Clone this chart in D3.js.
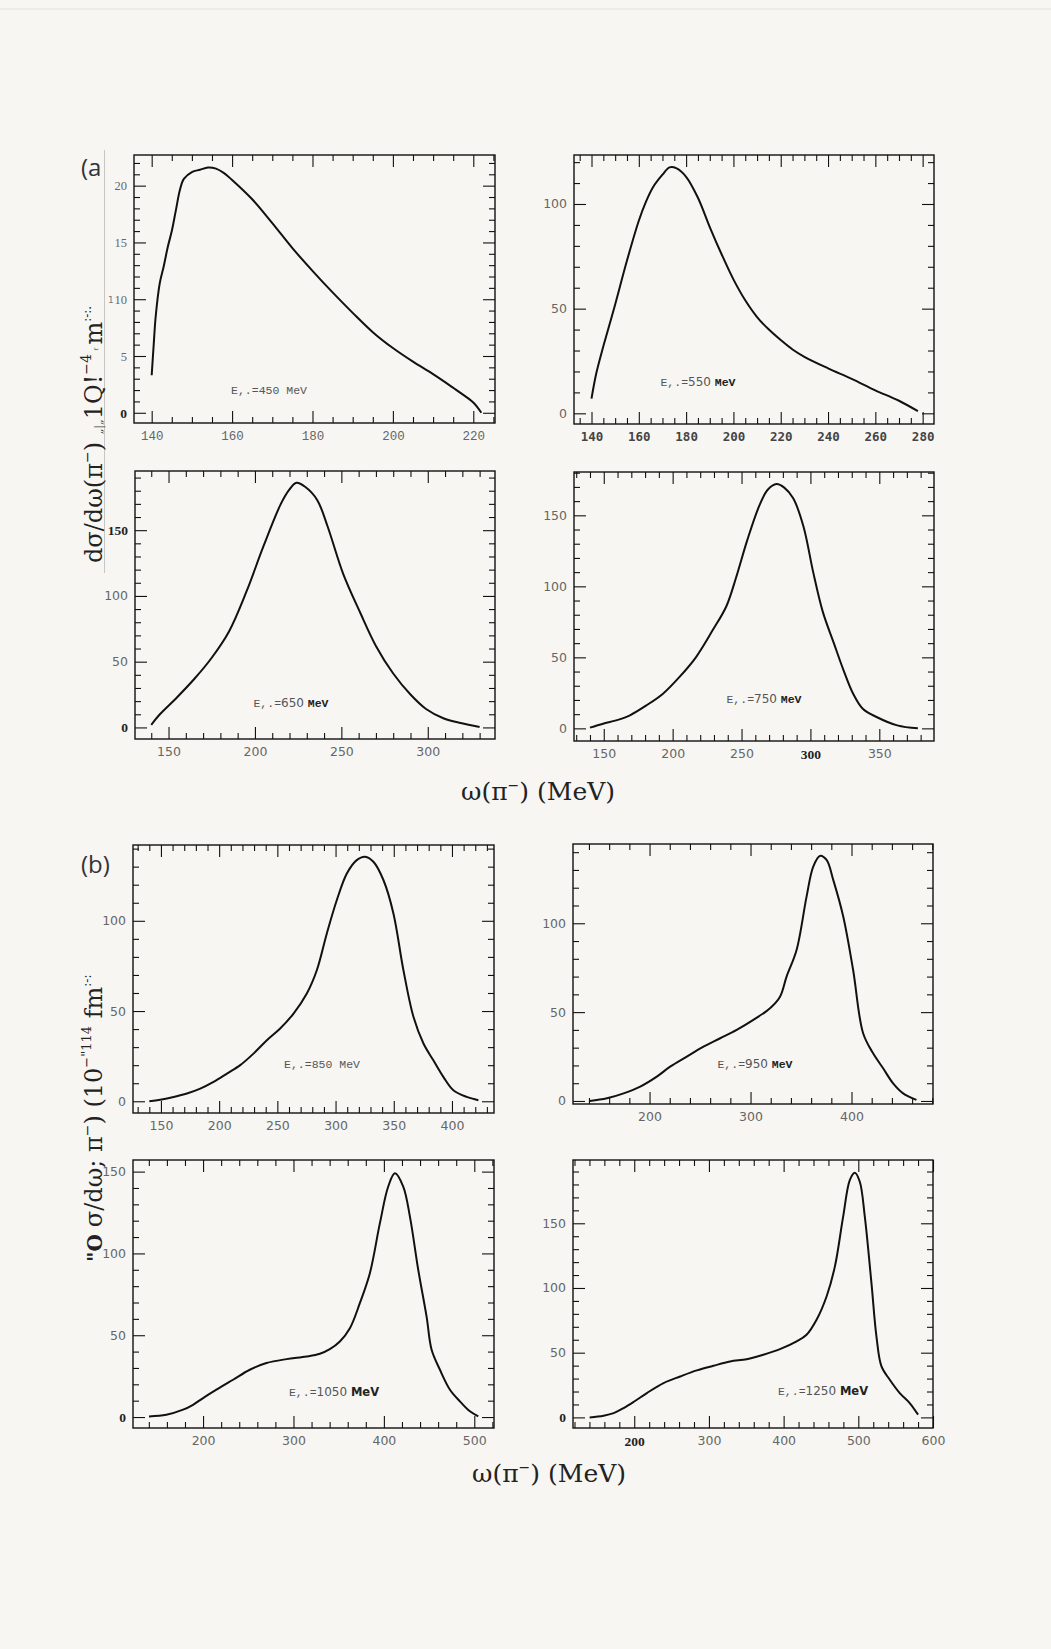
<!DOCTYPE html>
<html><head><meta charset="utf-8">
<script src="https://cdn.jsdelivr.net/npm/d3@7"></script>
<style>body{margin:0;background:#f7f6f3}</style>
</head><body>
<svg id="c" width="1051" height="1649" xmlns="http://www.w3.org/2000/svg"></svg>
<script>
// ---------------- DATA ----------------
const energies = [450, 550, 650, 750, 850, 950, 1050, 1250];

const omega450 = [140,140.5,141,142,143,144,145,146,147,148,150,152,154,156,158,160,165,170,175,180,185,190,195,200,205,210,215,219,220,221,222];
const sigma450 = [3.3,6,8.5,11.4,12.9,14.6,16,17.8,19.6,20.6,21.2,21.4,21.6,21.5,21.1,20.5,18.8,16.7,14.5,12.5,10.6,8.8,7.1,5.7,4.5,3.4,2.2,1.2,0.9,0.5,0];

const omega550 = [140,142,145,150,155,160,163,166,170,173,176,180,185,190,195,200,205,210,215,220,225,230,240,250,260,270,278];
const sigma550 = [7,19,32,52,73,92,101,108,114,117.5,117,113,103,89,76,64,54,46,40,35,30.5,27,21.5,16.5,11,6,1];

const omega650 = [140,145,155,165,175,185,195,205,215,220,224,229,236,242,251,261,270,280,290,299,309,319,330];
const sigma650 = [2,10,23,37,53,73,103,138,170,181,186,183,173,153,117,87,62,41,25,14,7,3.3,0.3];

const omega750 = [140,149.5,159,169,181,193,205,217,229,239,246,254,263,269,275.4,281,287.5,295,302,309,317,324,331,338,348,363,378];
const sigma750 = [0.5,3.3,5.6,9.2,16.2,24.4,36.2,50.2,69,86,106,132,157,168,172,169.5,162,142,110,82,60,41,24.4,13.8,8,2.1,0];

const omega850 = [140,149.4,160.9,172.3,183.8,195.2,206.7,218.1,229.5,241,252.4,263.9,275.3,283.9,292.5,301.1,309.7,318.2,325.4,332.5,341.1,349.7,358.3,366.9,375.5,384,392.6,401.2,412.7,422.7];
const sigma850 = [0,0.9,2.4,4.3,7,10.7,15.3,20,26.4,33.8,40.3,48.6,59.7,72.6,93,111.5,126.2,133.6,135.5,132.7,122.6,104.1,72.6,46.8,32,22.7,13.5,6.1,2.4,0.6];

const omega950 = [140.7,157.8,174.3,190.8,207.2,220.4,236.9,253.4,269.9,286.3,302.8,319.3,329.2,335.7,345.6,355.5,362.1,368.7,375.3,381.9,391.8,401.6,411.5,421.4,431.3,441.2,451.1,464.3];
const sigma950 = [0,1.5,4.3,8.1,13.7,19.3,25,30.6,35.3,40,45.6,52.2,58.7,70,85,115,131.9,137.9,135.6,124.4,103.8,73.7,38.1,26.8,18.4,9.9,4.3,0.6];

const omega1050 = [140.2,159.4,177.9,188.9,200,214.8,233.2,251.7,270.1,292.3,314.4,329.2,340.2,351.3,362.4,373.4,384.5,395.6,404.8,412.2,421.4,428.8,438,447.2,452.8,462,473.1,484.1,495.2,504.4];
const sigma1050 = [0.4,1.4,4.5,7.5,11.6,16.7,22.8,28.9,33,35.4,37,38.7,41.5,46.2,54.3,69.6,87.9,118.5,140.9,149,140.9,122.5,90,61.5,41.1,28.9,16.7,9.6,3.5,0.4];

const omega1250 = [140.3,159,172.4,185.7,200,216.9,239.2,261.5,283.7,306,328.3,350.6,372.8,395.1,417.4,430.7,444.1,457.5,468.6,479.7,488.6,495.3,502,508.7,517.6,524.3,531,542.1,555.5,568.8,580];
const sigma1250 = [0,1.3,3.3,7.2,12.3,18.8,26.5,31.6,36.3,39.9,43.2,45,48.4,52.7,58.7,63.8,75.4,93.4,116.5,155.1,183.4,189.1,182.1,155.1,103.7,62.5,39.4,29.1,18.8,11.1,2.1];

const xTicks450 = [140,160,180,200,220];        const yTicks450 = [0,5,10,15,20];
const xTicks550 = [140,160,180,200,220,240,260,280]; const yTicks550 = [0,50,100];
const xTicks650 = [150,200,250,300];            const yTicks650 = [0,50,100,150];
const xTicks750 = [150,200,250,300,350];        const yTicks750 = [0,50,100,150];
const xTicks850 = [150,200,250,300,350,400];    const yTicks850 = [0,50,100];
const xTicks950 = [200,300,400];                const yTicks950 = [0,50,100];
const xTicks1050 = [200,300,400,500];           const yTicks1050 = [0,50,100,150];
const xTicks1250 = [200,300,400,500,600];       const yTicks1250 = [0,50,100,150];

// ---------------- LAYOUT (positions / styles) ----------------
const layout = [
  {e:450, om:omega450, sg:sigma450, xt:xTicks450, yt:yTicks450, f:[134,155,495,423], xd:[135.6,225.4], yd:[-0.9,22.7], xm:5, ym:1, lab:[269,394]},
  {e:550, om:omega550, sg:sigma550, xt:xTicks550, yt:yTicks550, f:[574,155,934,424], xd:[132.6,284.8], yd:[-5.1,123.4], xm:5, ym:10, lab:[698,386]},
  {e:650, om:omega650, sg:sigma650, xt:xTicks650, yt:yTicks650, f:[135,471,495,739], xd:[130.6,338.9], yd:[-8.8,195], xm:10, ym:10, lab:[291,707]},
  {e:750, om:omega750, sg:sigma750, xt:xTicks750, yt:yTicks750, f:[574,472,934,741], xd:[128.4,389.7], yd:[-8.9,180.5], xm:10, ym:10, lab:[764,703]},
  {e:850, om:omega850, sg:sigma850, xt:xTicks850, yt:yTicks850, f:[133,845,494,1113], xd:[126,436.1], yd:[-6.5,142], xm:10, ym:10, lab:[322,1068]},
  {e:950, om:omega950, sg:sigma950, xt:xTicks950, yt:yTicks950, f:[573,844,933,1104], xd:[124.2,480.7], yd:[-1.7,144.6], xm:20, ym:10, lab:[755,1068]},
  {e:1050, om:omega1050, sg:sigma1050, xt:xTicks1050, yt:yTicks1050, f:[133,1160,494,1428], xd:[122.5,521.8], yd:[-6.7,157.1], xm:20, ym:10, lab:[334,1396]},
  {e:1250, om:omega1250, sg:sigma1250, xt:xTicks1250, yt:yTicks1250, f:[573,1160,933,1428], xd:[118,600], yd:[-8.2,198.9], xm:20, ym:10, lab:[823,1395]}
];
// label style variants seen in the scan
const boldSerif = {450:{x:[],y:[0]}, 550:{x:[],y:[]}, 650:{x:[],y:[0,150]}, 750:{x:[300],y:[]}, 850:{x:[],y:[]}, 950:{x:[],y:[]}, 1050:{x:[],y:[0]}, 1250:{x:[200],y:[0]}};
const tickFont = {450:["Liberation Mono","Liberation Serif"],550:["DejaVu Sans Mono","DejaVu Sans"],650:["DejaVu Sans","DejaVu Sans"],750:["DejaVu Sans","DejaVu Sans"],850:["DejaVu Sans","DejaVu Sans"],950:["DejaVu Sans","DejaVu Sans"],1050:["DejaVu Sans","DejaVu Sans"],1250:["DejaVu Sans","DejaVu Sans"]};
const mevStyle = {450:"mono",550:"boldmono",650:"boldmono",750:"boldmono",850:"mono",950:"boldmono",1050:"boldsans",1250:"boldsans"};

const svg = d3.select("#c");
svg.append("rect").attr("width",1051).attr("height",1649).attr("fill","#f7f6f3");
svg.append("line").attr("x1",0).attr("x2",1051).attr("y1",9).attr("y2",9).attr("stroke","#e2e0dc").attr("stroke-width",1);
svg.append("line").attr("x1",104.5).attr("x2",104.5).attr("y1",150).attr("y2",573).attr("stroke","#c8c6c2").attr("stroke-width",1);

layout.forEach(p => {
  const [l,t,r,b] = p.f;
  const x = d3.scaleLinear().domain(p.xd).range([l,r]);
  const y = d3.scaleLinear().domain(p.yd).range([b,t]);
  const g = svg.append("g");
  const minorX = d3.range(Math.ceil(p.xd[0]/p.xm)*p.xm, p.xd[1]+1e-9, p.xm).filter(v=>!p.xt.includes(v));
  const minorY = d3.range(Math.ceil(p.yd[0]/p.ym)*p.ym, p.yd[1]+1e-9, p.ym).filter(v=>!p.yt.includes(v) && v>=0);
  const majX = p.xt.filter(v=>v<=p.xd[1]);
  const mk = (axisFn, sc, vals, len, tr) => {
    const a = g.append("g").attr("transform",tr).call(axisFn(sc).tickValues(vals).tickSize(-len).tickFormat(""));
    a.select(".domain").remove();
    a.selectAll("line").attr("stroke","#111").attr("stroke-width",1.1);
  };
  [[minorX,6],[majX,12]].forEach(([v,len])=>{
    mk(d3.axisBottom,x,v,len,`translate(0,${b})`);
    mk(d3.axisTop,x,v,len,`translate(0,${t})`);
  });
  [[minorY,6],[p.yt,12]].forEach(([v,len])=>{
    mk(d3.axisLeft,y,v,len,`translate(${l},0)`);
    mk(d3.axisRight,y,v,len,`translate(${r},0)`);
  });
  g.append("rect").attr("x",l).attr("y",t).attr("width",r-l).attr("height",b-t)
    .attr("fill","none").attr("stroke","#111").attr("stroke-width",1.4);

  // tick labels
  const bs = boldSerif[p.e];
  const ax = g.append("g").attr("transform",`translate(0,${b})`).call(d3.axisBottom(x).tickValues(p.xt).tickSize(0).tickPadding(8));
  ax.select(".domain").remove();
  ax.selectAll("text").attr("font-size",12.5).attr("fill","#666").attr("font-family",tickFont[p.e][0])
    .filter(d=>bs.x.includes(d)).attr("font-family","Liberation Serif").attr("font-weight","bold").attr("fill","#222").attr("font-size",13.5);
  if (p.e===550) ax.selectAll("text").attr("font-weight","bold").attr("fill","#444");
  const ay = g.append("g").attr("transform",`translate(${l},0)`).call(d3.axisLeft(y).tickValues(p.yt).tickSize(0).tickPadding(7));
  ay.select(".domain").remove();
  ay.selectAll("text").attr("font-size",12.5).attr("fill","#666").attr("font-family",tickFont[p.e][1])
    .filter(d=>bs.y.includes(d)).attr("font-family","Liberation Serif").attr("font-weight","bold").attr("fill","#222").attr("font-size",13.5);

  // curve
  const pts = p.om.map((o,i)=>[o,p.sg[i]]);
  g.append("path").datum(pts)
    .attr("d", d3.line().x(d=>x(d[0])).y(d=>y(d[1])).curve(d3.curveCatmullRom.alpha(0.5)))
    .attr("fill","none").attr("stroke","#111").attr("stroke-width",2).attr("stroke-linejoin","round");

  // energy label
  const tx = g.append("text").attr("x",p.lab[0]).attr("y",p.lab[1]).attr("text-anchor","middle")
    .attr("font-size",11.5).attr("fill","#555");
  const st = mevStyle[p.e];
  if (st==="mono") {
    tx.append("tspan").attr("font-family","Liberation Mono").text(`E,.=${p.e} MeV`);
  } else {
    tx.append("tspan").attr("font-family","Liberation Mono").text("E,.=");
    tx.append("tspan").attr("font-family","DejaVu Sans").attr("font-size",12).text(`${p.e} `);
    tx.append("tspan").attr("font-family", st==="boldmono" ? "Liberation Mono" : "DejaVu Sans")
      .attr("font-weight","bold").attr("fill","#222").text("MeV");
  }
});

// panel letters
svg.append("text").attr("x",81).attr("y",176).attr("font-family","Open Sans").attr("font-size",24).attr("fill","#333").text("(a");
svg.append("text").attr("x",81).attr("y",873).attr("font-family","Open Sans").attr("font-size",24).attr("fill","#333").text("(b)");

// x-axis titles
function xTitle(cx, cy) {
  const t = svg.append("text").attr("x",cx).attr("y",cy).attr("text-anchor","middle")
    .attr("font-family","DejaVu Serif").attr("font-size",25).attr("fill","#222");
  t.append("tspan").text("ω(π");
  t.append("tspan").attr("dy",-10).attr("font-size",14).text("−");
  t.append("tspan").attr("dy",10).text(")  (MeV)");
}
xTitle(538, 800);
xTitle(549, 1482);

// y-axis titles (rotated)
const yt1 = svg.append("text").attr("transform","translate(102,563) rotate(-90)")
  .attr("font-family","DejaVu Serif").attr("font-size",24).attr("fill","#222");
yt1.append("tspan").text("dσ/dω(π");
yt1.append("tspan").attr("dy",-10).attr("font-size",14).text("−");
yt1.append("tspan").attr("dy",10).text(") ");
yt1.append("tspan").attr("font-size",11).attr("fill","#444").text("„|„");
yt1.append("tspan").text("1Q!");
yt1.append("tspan").attr("dy",-11).attr("font-size",14).text("−4");
yt1.append("tspan").attr("dy",11).attr("font-size",11).attr("fill","#666").text(" ᶠ ");
yt1.append("tspan").text("m");
yt1.append("tspan").attr("dy",-11).attr("font-size",12).text(":-:.");

const yt2 = svg.append("text").attr("transform","translate(102,1262) rotate(-90)")
  .attr("font-family","DejaVu Serif").attr("font-size",24).attr("fill","#222");
yt2.append("tspan").attr("font-weight","bold").attr("font-size",20).text("\"O ");
yt2.append("tspan").text("σ/dω; π");
yt2.append("tspan").attr("dy",-10).attr("font-size",14).text("−");
yt2.append("tspan").attr("dy",10).text(")  (10");
yt2.append("tspan").attr("dy",-11).attr("font-size",13).text("−\"114");
yt2.append("tspan").attr("dy",11).text(" fm");
yt2.append("tspan").attr("dy",-11).attr("font-size",12).text(":-:");

svg.append("text").attr("x",108).attr("y",303).attr("font-size",9).attr("fill","#777").attr("font-family","DejaVu Sans").text("1");
</script>
</body></html>
